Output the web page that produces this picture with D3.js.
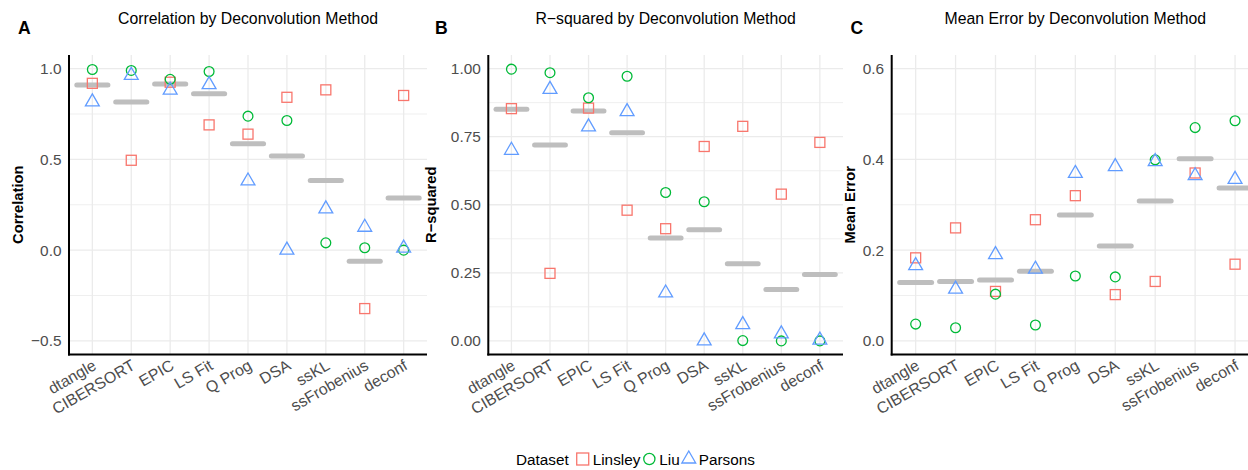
<!DOCTYPE html>
<html>
<head>
<meta charset="utf-8">
<script src="https://cdn.jsdelivr.net/npm/d3@7"></script>
<style>
  body { margin: 0; background: #fff; }
  svg { display: block; font-family: "Liberation Sans", Arial, Helvetica, sans-serif; }
</style>
</head>
<body>
<svg id="chart" width="1248" height="470"></svg>
<script>
// Methods on the x axis, in plotting order
var methods = ["dtangle", "CIBERSORT", "EPIC", "LS Fit", "Q Prog", "DSA", "ssKL", "ssFrobenius", "deconf"];
var datasets = ["Linsley", "Liu", "Parsons"];

// Correlation (panel A)
var corrLinsley = [0.919, 0.495, 0.925, 0.690, 0.639, 0.842, 0.883, -0.322, 0.852];
var corrLiu     = [0.995, 0.990, 0.941, 0.984, 0.738, 0.714, 0.040, 0.013, 0.000];
var corrParsons = [0.817, 0.963, 0.881, 0.912, 0.381, 0.000, 0.227, 0.126, 0.011];

// R-squared (panel B)
var r2Linsley = [0.853, 0.248, 0.855, 0.480, 0.412, 0.714, 0.788, 0.539, 0.729];
var r2Liu     = [0.998, 0.985, 0.893, 0.972, 0.545, 0.511, 0.001, 0.000, 0.000];
var r2Parsons = [0.700, 0.924, 0.786, 0.842, 0.176, 0.000, 0.060, 0.026, 0.003];

// Mean error (panel C)
var errLinsley = [0.183, 0.249, 0.109, 0.267, 0.320, 0.102, 0.131, 0.370, 0.169];
var errLiu     = [0.037, 0.029, 0.103, 0.035, 0.143, 0.141, 0.399, 0.470, 0.485];
var errParsons = [0.166, 0.114, 0.190, 0.158, 0.369, 0.384, 0.395, 0.364, 0.356];

// Axis ticks
var corrTicks = [-0.5, 0, 0.5, 1.0],   corrMinor = [-0.25, 0.25, 0.75];
var r2Ticks   = [0, 0.25, 0.5, 0.75, 1], r2Minor = [0.125, 0.375, 0.625, 0.875];
var errTicks  = [0, 0.2, 0.4, 0.6],    errMinor = [0.1, 0.3, 0.5];

var colors = { Linsley: "#F8766D", Liu: "#00BA38", Parsons: "#619CFF" };
var gridColor = "#ebebeb",
    textGrey = "#4d4d4d",
    barGrey = "#bebebe",
    plotTop = 55,
    plotBottom = 354.5;

var svg = d3.select("#chart");

var fmt = function(digits) {
  return function(v) { return d3.format("." + digits + "f")(v).replace("-", "\u2212"); };
};

// Shapes like R's pch 0, 1 and 2
var drawShape = function(g, name, x, y) {
  var c = colors[name];
  if (name === "Linsley") {
    g.append("rect").attr("x", x - 5).attr("y", y - 5).attr("width", 10).attr("height", 10)
      .attr("fill", "none").attr("stroke", c).attr("stroke-width", 1.3);
  } else if (name === "Liu") {
    g.append("circle").attr("cx", x).attr("cy", y).attr("r", 4.9)
      .attr("fill", "none").attr("stroke", c).attr("stroke-width", 1.3);
  } else {
    var r = 8, h = r * Math.sqrt(3) / 2;
    g.append("path")
      .attr("d", "M" + x + "," + (y - r) + "L" + (x + h) + "," + (y + r / 2) + "L" + (x - h) + "," + (y + r / 2) + "Z")
      .attr("fill", "none").attr("stroke", c).attr("stroke-width", 1.3).attr("stroke-linejoin", "miter");
  }
};

var drawPanel = function(p) {
  var g = svg.append("g");

  var x = d3.scalePoint().domain(methods).range([p.left, p.right]).padding(0.6);
  var y = d3.scaleLinear().domain(p.domain).range([plotBottom, plotTop]);
  var step = x.step();

  // Grid lines
  g.selectAll(".minor").data(p.minor).enter().append("line")
    .attr("x1", p.left).attr("x2", p.right)
    .attr("y1", function(d) { return y(d); }).attr("y2", function(d) { return y(d); })
    .attr("stroke", gridColor).attr("stroke-width", 0.8);
  g.selectAll(".major").data(p.ticks).enter().append("line")
    .attr("x1", p.left).attr("x2", p.right)
    .attr("y1", function(d) { return y(d); }).attr("y2", function(d) { return y(d); })
    .attr("stroke", gridColor).attr("stroke-width", 1.3);
  g.selectAll(".vgrid").data(methods).enter().append("line")
    .attr("x1", function(d) { return x(d); }).attr("x2", function(d) { return x(d); })
    .attr("y1", plotTop).attr("y2", plotBottom)
    .attr("stroke", gridColor).attr("stroke-width", 1.3);

  // Mean of the three datasets for each method
  var means = methods.map(function(m, i) {
    return { method: m, value: d3.mean(p.values, function(s) { return s[i]; }) };
  });
  g.selectAll(".mean").data(means).enter().append("line")
    .attr("x1", function(d) { return x(d.method) - 0.4 * step; })
    .attr("x2", function(d) { return x(d.method) + 0.4 * step; })
    .attr("y1", function(d) { return y(d.value); })
    .attr("y2", function(d) { return y(d.value); })
    .attr("stroke", barGrey).attr("stroke-width", 5).attr("stroke-linecap", "round");

  // Points
  datasets.forEach(function(name, k) {
    p.values[k].forEach(function(v, i) {
      drawShape(g, name, x(methods[i]), y(v));
    });
  });

  // Axis lines
  g.append("line").attr("x1", p.left).attr("x2", p.left).attr("y1", plotTop).attr("y2", plotBottom + 1)
    .attr("stroke", "#000").attr("stroke-width", 2);
  g.append("line").attr("x1", p.left - 1).attr("x2", p.right).attr("y1", plotBottom).attr("y2", plotBottom)
    .attr("stroke", "#000").attr("stroke-width", 2);

  // Tick labels
  g.selectAll(".ytick").data(p.ticks).enter().append("text")
    .attr("x", p.left - 7.5).attr("y", function(d) { return y(d); })
    .attr("dy", "0.36em").attr("text-anchor", "end")
    .attr("font-size", "15.4px").attr("fill", textGrey)
    .text(p.format);
  g.selectAll(".xtick").data(methods).enter().append("text")
    .attr("transform", function(d) { return "translate(" + (x(d) + 5) + "," + (plotBottom + 14) + ") rotate(-30)"; })
    .attr("text-anchor", "end")
    .attr("font-size", "15.9px").attr("fill", textGrey)
    .text(function(d) { return d; });

  // Titles
  g.append("text").attr("x", (p.left + p.right) / 2).attr("y", 24)
    .attr("text-anchor", "middle").attr("font-size", "15.8px").attr("fill", "#000")
    .text(p.title);
  g.append("text").attr("x", p.letterX).attr("y", 34)
    .attr("font-size", "17.6px").attr("font-weight", "bold").attr("fill", "#000")
    .text(p.letter);
  g.append("text")
    .attr("transform", "translate(" + p.ylabX + "," + ((plotTop + plotBottom) / 2) + ") rotate(-90)")
    .attr("text-anchor", "middle").attr("font-size", "14.7px").attr("font-weight", "bold").attr("fill", "#000")
    .text(p.ylab);
};

drawPanel({ letter: "A", title: "Correlation by Deconvolution Method", ylab: "Correlation",
  values: [corrLinsley, corrLiu, corrParsons], domain: [-0.575, 1.075],
  ticks: corrTicks, minor: corrMinor, format: fmt(1),
  left: 69, right: 427, letterX: 18, ylabX: 23 });

drawPanel({ letter: "B", title: "R\u2212squared by Deconvolution Method", ylab: "R\u2212squared",
  values: [r2Linsley, r2Liu, r2Parsons], domain: [-0.05, 1.05],
  ticks: r2Ticks, minor: r2Minor, format: fmt(2),
  left: 488.3, right: 843, letterX: 435, ylabX: 436 });

drawPanel({ letter: "C", title: "Mean Error by Deconvolution Method", ylab: "Mean Error",
  values: [errLinsley, errLiu, errParsons], domain: [-0.03, 0.63],
  ticks: errTicks, minor: errMinor, format: fmt(1),
  left: 891.7, right: 1259, letterX: 850.5, ylabX: 855 });

// Legend at the bottom
var legend = svg.append("g").attr("font-size", "15.3px").attr("fill", "#000");
var lx = 516, ly = 465;
var title = legend.append("text").attr("x", lx).attr("y", ly).text("Dataset");
lx += title.node().getComputedTextLength() + 8;
datasets.forEach(function(name) {
  var kg = legend.append("g");
  drawShape(kg, name, lx + 6, ly - 6);
  if (name === "Linsley") kg.select("rect").attr("x", lx).attr("y", ly - 12).attr("width", 12).attr("height", 12);
  if (name === "Liu") kg.select("circle").attr("r", 5.6);
  var t = legend.append("text").attr("x", lx + 16).attr("y", ly).text(name);
  lx += 16 + t.node().getComputedTextLength() + 3;
});
</script>
</body>
</html>
